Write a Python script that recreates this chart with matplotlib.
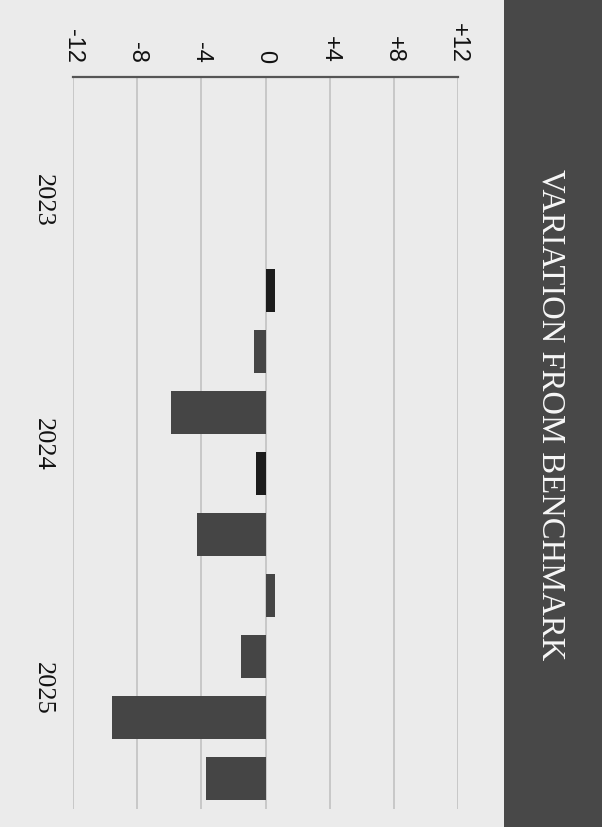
# variation from benchmark - quarterly bars, page turned on its side
import numpy as np
import matplotlib
matplotlib.use("Agg")
import matplotlib.pyplot as plt
from matplotlib.patches import Rectangle

# data
quarters = ["2023 Q1", "2023 Q2", "2023 Q3", "2023 Q4",
            "2024 Q1", "2024 Q2", "2024 Q3", "2024 Q4",
            "2025 Q1", "2025 Q2", "2025 Q3", "2025 Q4"]
variation = [np.nan, np.nan, np.nan, 0.6,
             -0.7, -5.9, -0.6, -4.3,
             0.6, -1.5, -9.6, -3.7]
years = ["2023", "2024", "2025"]
value_ticks = [-12, -8, -4, 0, 4, 8, 12]
value_labels = ["-12", "-8", "-4", "0", "+4", "+8", "+12"]

# dark bars for two of the quarters
bar_colors = ["#454545"] * 12
bar_colors[3] = "#1c1c1c"
bar_colors[6] = "#1c1c1c"

paper = "#ebebeb"
fig = plt.figure(figsize=(6.02, 8.28), dpi=100, facecolor=paper)

# dark title band on the right
fig.patches.append(Rectangle((504 / 602, 0), 98 / 602, 1, transform=fig.transFigure,
                             facecolor="#484848", edgecolor="none", zorder=0))
fig.text(551 / 602, 1 - 415 / 828, "VARIATION FROM BENCHMARK", rotation=-90,
         ha="center", va="center", color="#f7f7f7", fontsize=23.5,
         family="Liberation Serif")

ax = fig.add_axes([73 / 602, 18 / 828, 385 / 602, 732 / 828])
ax.set_facecolor(paper)

pos = np.arange(len(quarters))
ax.barh(pos, variation, height=0.7, color=bar_colors, zorder=3)

ax.set_xlim(-12, 12)
ax.set_ylim(len(quarters) - 0.5, -0.5)

# value axis on top, labels turned with the page
ax.xaxis.tick_top()
ax.set_xticks(value_ticks)
ax.set_xticklabels(value_labels, rotation=-90, fontsize=17,
                   family="Liberation Sans", color="#111111")
ax.tick_params(axis="x", length=0, pad=11)
ax.grid(axis="x", color="#c2c2c2", linewidth=1.2, zorder=0)

# year labels centred on each group of four quarters
year_pos = [pos[i * 4:(i + 1) * 4].mean() for i in range(len(years))]
ax.set_yticks(year_pos)
ax.set_yticklabels(years, rotation=-90, fontsize=19,
                   family="Liberation Serif", color="#111111", va="center")
ax.tick_params(axis="y", length=0, pad=14)

for s in ["left", "right", "bottom"]:
    ax.spines[s].set_visible(False)
ax.spines["top"].set_color("#555555")
ax.spines["top"].set_linewidth(1.6)

fig.savefig("out.png", dpi=100, facecolor=paper)
